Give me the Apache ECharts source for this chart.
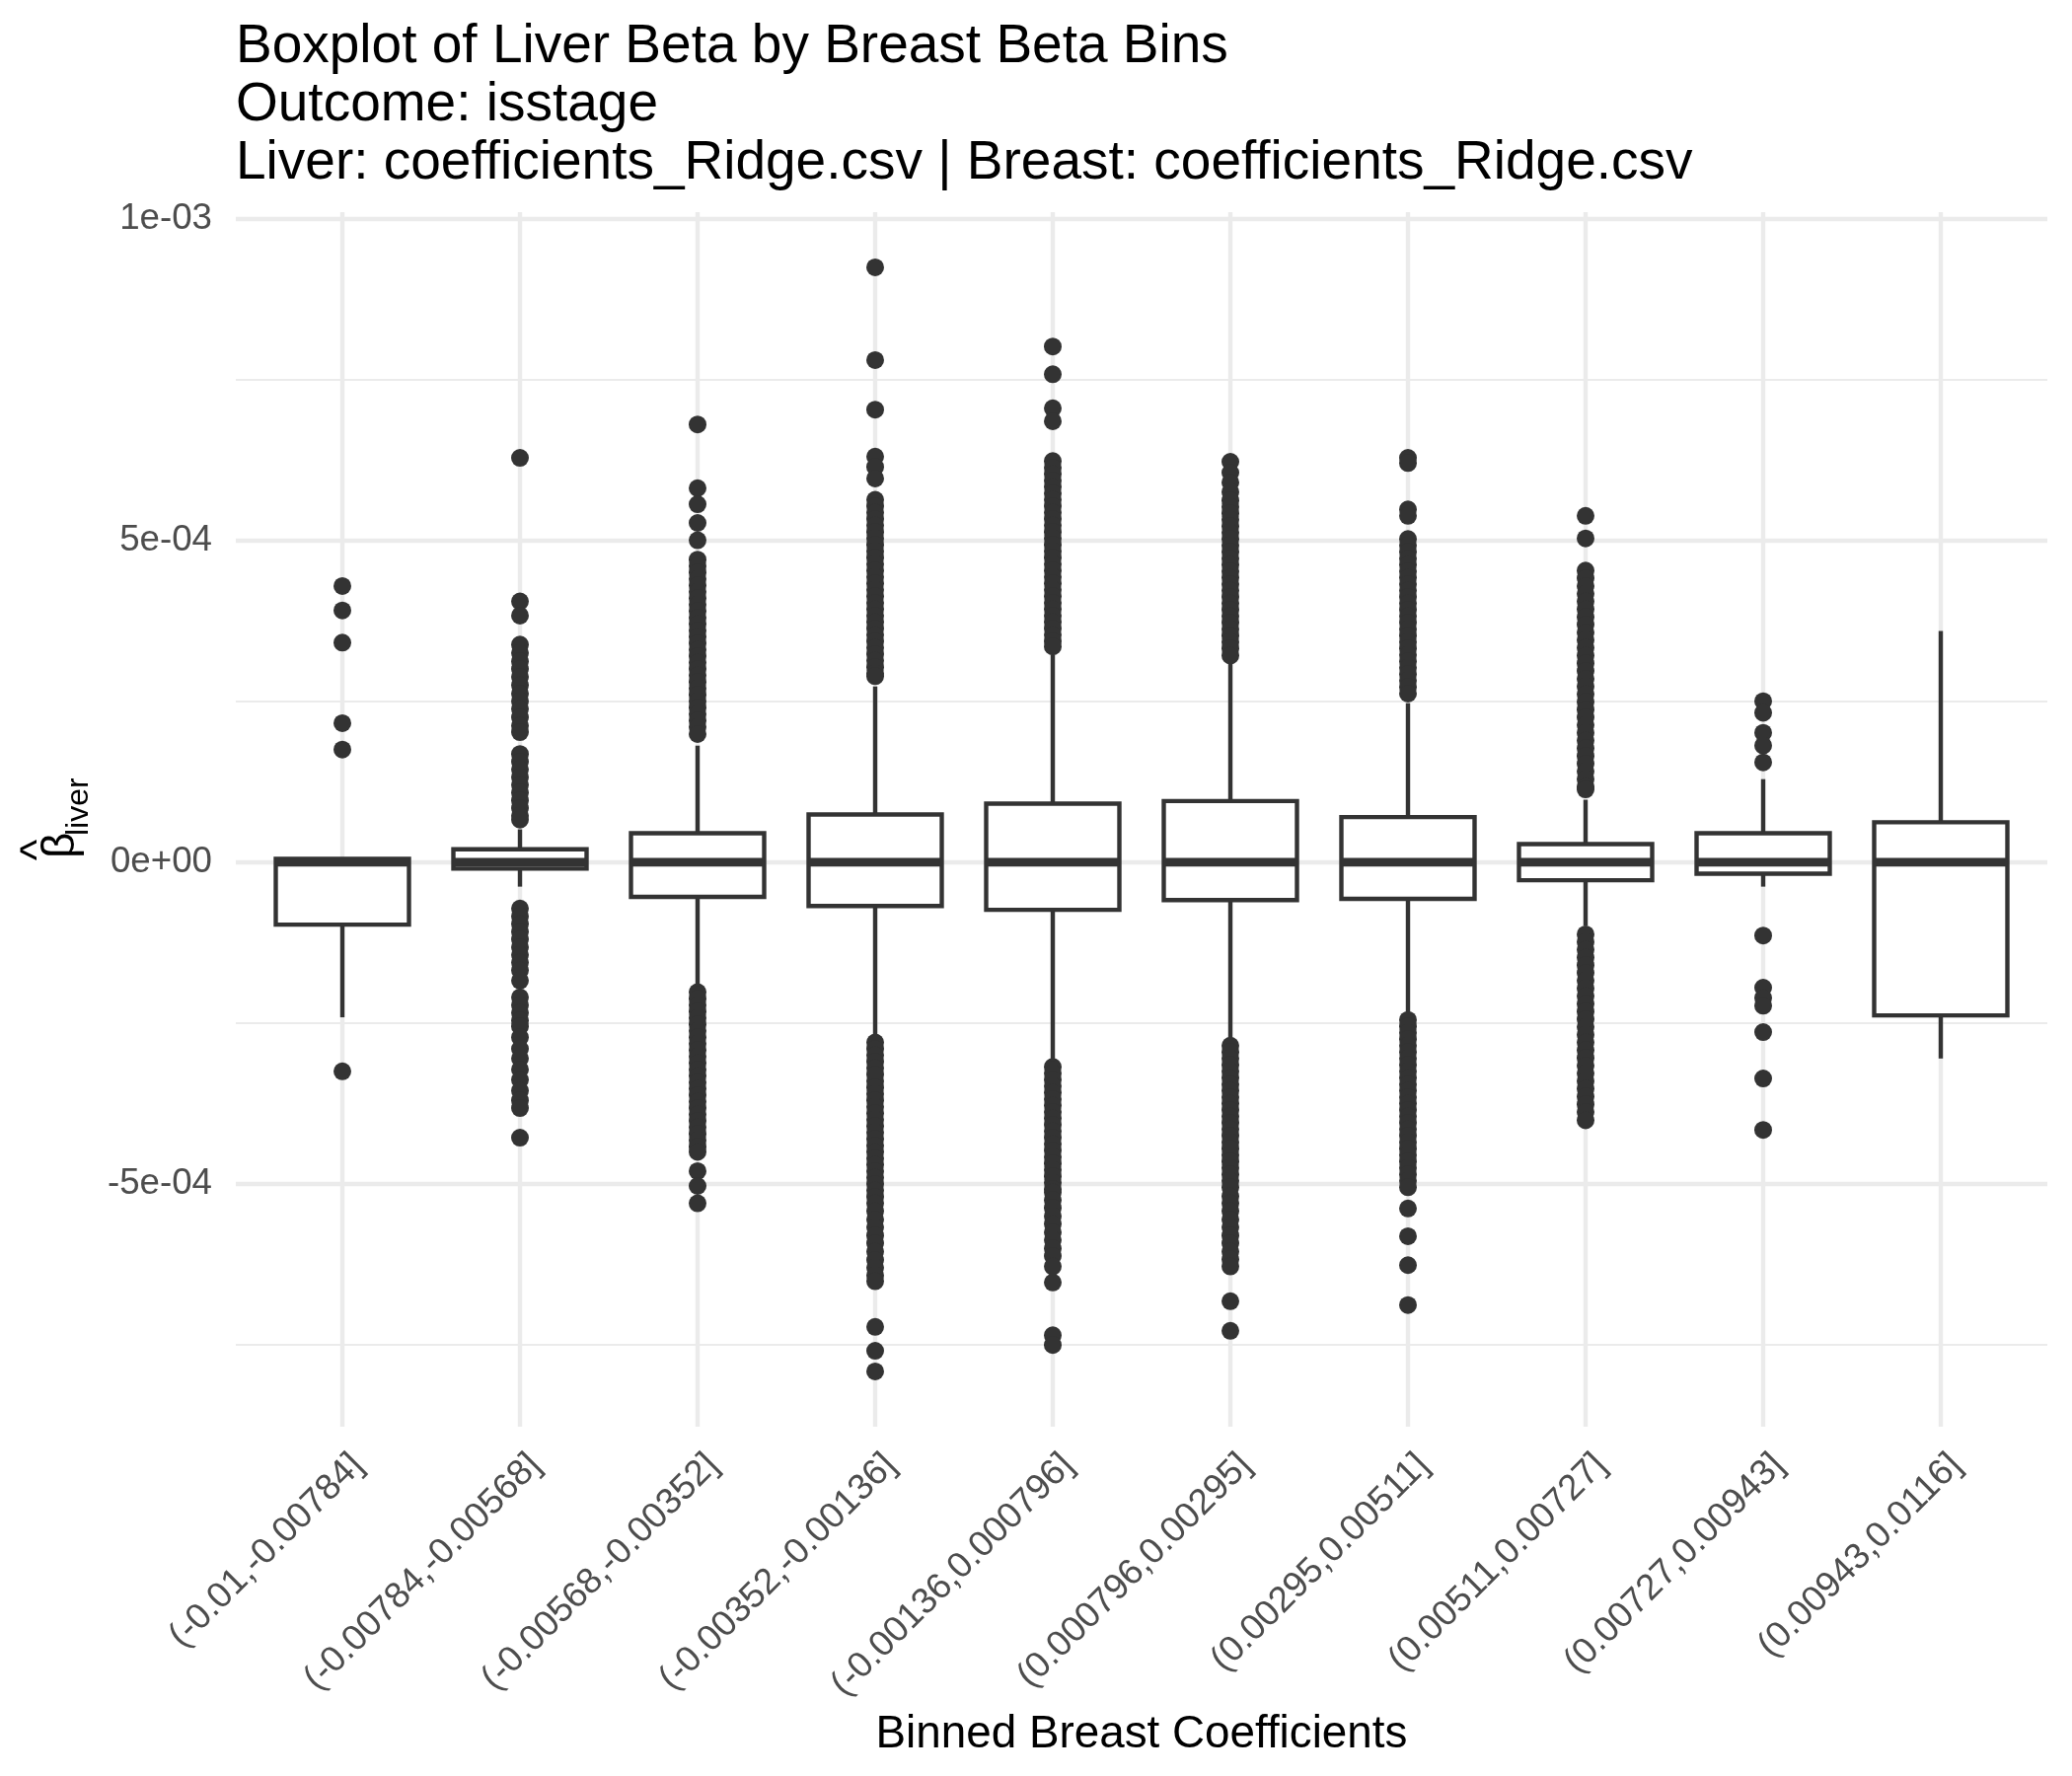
<!DOCTYPE html>
<html>
<head>
<meta charset="utf-8">
<script src="https://cdn.jsdelivr.net/npm/echarts@6/dist/echarts.min.js"></script>
<style>
  html, body { margin: 0; padding: 0; background: #ffffff; }
  #chart { width: 2100px; height: 1800px; }
</style>
</head>
<body>
<div id="chart"></div>
<script>
// ---------------- DATA ----------------
const binLabels = [
  '(-0.01,-0.00784]', '(-0.00784,-0.00568]', '(-0.00568,-0.00352]', '(-0.00352,-0.00136]',
  '(-0.00136,0.000796]', '(0.000796,0.00295]', '(0.00295,0.00511]', '(0.00511,0.00727]',
  '(0.00727,0.00943]', '(0.00943,0.0116]'
];

const whiskerLow  = [-2.41e-4, -0.38e-4, -1.92e-4, -2.69e-4, -3.09e-4, -2.76e-4, -2.38e-4, -0.99e-4, -0.38e-4, -3.05e-4];
const quartile1   = [-0.97e-4, -0.10e-4, -0.54e-4, -0.68e-4, -0.74e-4, -0.59e-4, -0.57e-4, -0.28e-4, -0.18e-4, -2.38e-4];
const medianVals  = [0, 0, 0, 0, 0, 0, 0, 0, 0, 0];
const quartile3   = [0.05e-4, 0.20e-4, 0.45e-4, 0.74e-4, 0.91e-4, 0.95e-4, 0.70e-4, 0.28e-4, 0.45e-4, 0.62e-4];
const whiskerHigh = [0.05e-4, 0.51e-4, 1.81e-4, 2.73e-4, 3.22e-4, 3.08e-4, 2.47e-4, 0.97e-4, 1.29e-4, 3.59e-4];

const outliersBin1 = [4.29e-4, 3.91e-4, 3.41e-4, 2.16e-4, 1.75e-4, -3.25e-4];
const outliersBin2 = [
  6.28e-4, 4.05e-4, 3.83e-4, 3.38e-4, 3.25e-4, 3.12e-4, 3.00e-4, 2.88e-4, 2.75e-4, 2.62e-4, 2.50e-4,
  2.38e-4, 2.25e-4, 2.12e-4, 2.02e-4, 1.68e-4, 1.56e-4, 1.44e-4, 1.32e-4, 1.20e-4, 1.08e-4, 0.96e-4,
  0.84e-4, 0.72e-4, 0.66e-4,
  -0.72e-4, -0.84e-4, -0.96e-4, -1.08e-4, -1.20e-4, -1.32e-4, -1.44e-4, -1.56e-4, -1.68e-4, -1.84e-4,
  -2.10e-4, -2.22e-4, -2.34e-4, -2.46e-4, -2.55e-4, -2.72e-4, -2.90e-4, -3.05e-4, -3.22e-4, -3.38e-4,
  -3.55e-4, -3.70e-4, -3.82e-4, -4.28e-4
];
const outliersBin3 = [
  6.80e-4, 5.81e-4, 5.56e-4, 5.27e-4, 5.00e-4,
  4.70e-4, 4.60e-4, 4.50e-4, 4.40e-4, 4.30e-4, 4.20e-4, 4.10e-4, 4.00e-4, 3.90e-4, 3.80e-4, 3.70e-4,
  3.60e-4, 3.50e-4, 3.40e-4, 3.30e-4, 3.20e-4, 3.10e-4, 3.00e-4, 2.90e-4, 2.80e-4, 2.70e-4, 2.60e-4,
  2.50e-4, 2.40e-4, 2.30e-4, 2.20e-4, 2.10e-4, 1.99e-4,
  -2.02e-4, -2.12e-4, -2.22e-4, -2.32e-4, -2.42e-4, -2.52e-4, -2.62e-4, -2.72e-4, -2.82e-4, -2.92e-4,
  -3.02e-4, -3.12e-4, -3.22e-4, -3.32e-4, -3.42e-4, -3.52e-4, -3.62e-4, -3.72e-4, -3.82e-4, -3.92e-4,
  -4.02e-4, -4.12e-4, -4.22e-4, -4.32e-4, -4.42e-4, -4.50e-4, -4.80e-4, -5.03e-4, -5.30e-4
];
const outliersBin4 = [
  9.24e-4, 7.80e-4, 7.03e-4, 6.30e-4, 6.14e-4, 5.96e-4,
  5.63e-4, 5.53e-4, 5.43e-4, 5.33e-4, 5.23e-4, 5.13e-4, 5.03e-4, 4.93e-4, 4.83e-4, 4.73e-4, 4.63e-4,
  4.53e-4, 4.43e-4, 4.33e-4, 4.23e-4, 4.13e-4, 4.03e-4, 3.93e-4, 3.83e-4, 3.73e-4, 3.63e-4, 3.53e-4,
  3.43e-4, 3.33e-4, 3.23e-4, 3.13e-4, 3.03e-4, 2.93e-4, 2.89e-4,
  -2.80e-4, -2.90e-4, -3.00e-4, -3.10e-4, -3.20e-4, -3.30e-4, -3.40e-4, -3.50e-4, -3.60e-4, -3.70e-4,
  -3.80e-4, -3.90e-4, -4.00e-4, -4.10e-4, -4.20e-4, -4.30e-4, -4.40e-4, -4.50e-4, -4.60e-4, -4.70e-4,
  -4.80e-4, -4.90e-4, -5.00e-4, -5.10e-4, -5.20e-4, -5.30e-4, -5.42e-4, -5.55e-4, -5.67e-4, -5.80e-4,
  -5.92e-4, -6.05e-4, -6.18e-4, -6.30e-4, -6.42e-4, -6.51e-4, -7.22e-4, -7.59e-4, -7.91e-4
];
const outliersBin5 = [
  8.01e-4, 7.58e-4, 7.05e-4, 6.85e-4,
  6.23e-4, 6.13e-4, 6.03e-4, 5.93e-4, 5.83e-4, 5.73e-4, 5.63e-4, 5.53e-4, 5.43e-4, 5.33e-4, 5.23e-4,
  5.13e-4, 5.03e-4, 4.93e-4, 4.83e-4, 4.73e-4, 4.63e-4, 4.53e-4, 4.43e-4, 4.33e-4, 4.23e-4, 4.13e-4,
  4.03e-4, 3.93e-4, 3.83e-4, 3.73e-4, 3.63e-4, 3.53e-4, 3.43e-4, 3.35e-4,
  -3.18e-4, -3.28e-4, -3.38e-4, -3.48e-4, -3.58e-4, -3.68e-4, -3.78e-4, -3.88e-4, -3.98e-4, -4.08e-4,
  -4.18e-4, -4.28e-4, -4.38e-4, -4.48e-4, -4.58e-4, -4.68e-4, -4.78e-4, -4.88e-4, -4.98e-4, -5.08e-4,
  -5.13e-4, -5.25e-4, -5.37e-4, -5.50e-4, -5.62e-4, -5.75e-4, -5.87e-4, -6.00e-4, -6.12e-4, -6.28e-4,
  -6.53e-4, -7.35e-4, -7.50e-4
];
const outliersBin6 = [
  6.22e-4, 6.05e-4, 5.90e-4, 5.75e-4, 5.62e-4, 5.52e-4, 5.42e-4, 5.32e-4, 5.22e-4, 5.12e-4, 5.02e-4,
  4.92e-4, 4.82e-4, 4.72e-4, 4.62e-4, 4.52e-4, 4.42e-4, 4.32e-4, 4.22e-4, 4.12e-4, 4.02e-4, 3.92e-4,
  3.82e-4, 3.72e-4, 3.62e-4, 3.52e-4, 3.42e-4, 3.32e-4, 3.21e-4,
  -2.85e-4, -2.95e-4, -3.05e-4, -3.15e-4, -3.25e-4, -3.35e-4, -3.45e-4, -3.55e-4, -3.65e-4, -3.75e-4,
  -3.85e-4, -3.95e-4, -4.05e-4, -4.15e-4, -4.25e-4, -4.35e-4, -4.45e-4, -4.55e-4, -4.65e-4, -4.75e-4,
  -4.85e-4, -4.95e-4, -5.05e-4, -5.19e-4, -5.30e-4, -5.42e-4, -5.55e-4, -5.67e-4, -5.80e-4, -5.92e-4,
  -6.05e-4, -6.17e-4, -6.28e-4, -6.82e-4, -7.28e-4
];
const outliersBin7 = [
  6.28e-4, 6.20e-4, 5.48e-4, 5.38e-4,
  5.02e-4, 4.92e-4, 4.82e-4, 4.72e-4, 4.62e-4, 4.52e-4, 4.42e-4, 4.32e-4, 4.22e-4, 4.12e-4, 4.02e-4,
  3.92e-4, 3.82e-4, 3.72e-4, 3.62e-4, 3.52e-4, 3.42e-4, 3.32e-4, 3.22e-4, 3.12e-4, 3.02e-4, 2.92e-4,
  2.82e-4, 2.72e-4, 2.62e-4,
  -2.45e-4, -2.55e-4, -2.65e-4, -2.75e-4, -2.85e-4, -2.95e-4, -3.05e-4, -3.15e-4, -3.25e-4, -3.35e-4,
  -3.45e-4, -3.55e-4, -3.65e-4, -3.75e-4, -3.85e-4, -3.95e-4, -4.05e-4, -4.15e-4, -4.25e-4, -4.35e-4,
  -4.45e-4, -4.55e-4, -4.65e-4, -4.75e-4, -4.85e-4, -4.95e-4, -5.05e-4,
  -5.38e-4, -5.81e-4, -6.26e-4, -6.88e-4
];
const outliersBin8 = [
  5.38e-4, 5.03e-4,
  4.53e-4, 4.41e-4, 4.29e-4, 4.17e-4, 4.05e-4, 3.93e-4, 3.81e-4, 3.69e-4, 3.57e-4, 3.45e-4, 3.33e-4,
  3.21e-4, 3.09e-4, 2.97e-4, 2.85e-4, 2.73e-4, 2.61e-4, 2.49e-4, 2.37e-4, 2.25e-4, 2.13e-4, 2.01e-4,
  1.89e-4, 1.77e-4, 1.65e-4, 1.53e-4, 1.41e-4, 1.29e-4, 1.17e-4, 1.13e-4,
  -1.12e-4, -1.24e-4, -1.36e-4, -1.48e-4, -1.60e-4, -1.72e-4, -1.84e-4, -1.96e-4, -2.08e-4, -2.20e-4,
  -2.32e-4, -2.44e-4, -2.56e-4, -2.68e-4, -2.80e-4, -2.92e-4, -3.04e-4, -3.16e-4, -3.28e-4, -3.40e-4,
  -3.52e-4, -3.64e-4, -3.76e-4, -3.88e-4, -4.01e-4
];
const outliersBin9 = [2.50e-4, 2.32e-4, 2.01e-4, 1.81e-4, 1.55e-4, -1.14e-4, -1.95e-4, -2.11e-4, -2.23e-4, -2.64e-4, -3.36e-4, -4.16e-4];
const outliersBin10 = [];

const yTickValues  = [-5e-4, 0, 5e-4, 1e-3];
const yTickLabels  = ['-5e-04', '0e+00', '5e-04', '1e-03'];
const yMinorValues = [-7.5e-4, -2.5e-4, 2.5e-4, 7.5e-4];
const yMin = -8.77e-4;
const yMax = 1.0098e-3;

// ---------------- BUILD ----------------
const outliersAll = [outliersBin1, outliersBin2, outliersBin3, outliersBin4, outliersBin5,
                     outliersBin6, outliersBin7, outliersBin8, outliersBin9, outliersBin10];
const binIndex = binLabels.map((_, i) => i);
const boxData = binIndex.map(i => [i, whiskerLow[i], quartile1[i], medianVals[i], quartile3[i], whiskerHigh[i]]);
const outlierData = [];
outliersAll.forEach((arr, i) => arr.forEach(v => outlierData.push([i, v])));

const FONT = 'Liberation Sans, Arial, Helvetica, sans-serif';
const INK = '#333333';
const GRID = '#EBEBEB';

const chart = echarts.init(document.getElementById('chart'), null, { renderer: 'canvas' });

chart.setOption({
  backgroundColor: '#ffffff',
  animation: false,
  title: {
    text: 'Boxplot of Liver Beta by Breast Beta Bins\nOutcome: isstage\nLiver: coefficients_Ridge.csv | Breast: coefficients_Ridge.csv',
    left: 239, top: 18, padding: 0,
    textStyle: { fontFamily: FONT, fontSize: 55, lineHeight: 59, fontWeight: 'normal', color: '#000000' }
  },
  grid: { left: 239, right: 25, top: 215, bottom: 354, containLabel: false, outerBoundsMode: 'none' },
  xAxis: {
    type: 'value', min: -0.6, max: 9.6,
    axisLine: { show: false },
    axisTick: { show: false, customValues: binIndex },
    axisLabel: {
      customValues: binIndex,
      formatter: v => binLabels[Math.round(v)],
      rotate: 45, align: 'right', verticalAlign: 'top', margin: 18,
      fontFamily: FONT, fontSize: 36.7, lineHeight: 44, color: '#4D4D4D'
    },
    splitLine: { show: true, lineStyle: { color: GRID, width: 4.4 } },
    name: 'Binned Breast Coefficients', nameLocation: 'middle', nameGap: 304,
    nameTextStyle: { fontFamily: FONT, fontSize: 45.8, color: '#000000', verticalAlign: 'middle' }
  },
  yAxis: [
    {
      type: 'value', min: yMin, max: yMax,
      axisLine: { show: false },
      axisTick: { show: false, customValues: yTickValues },
      axisLabel: {
        customValues: yTickValues,
        formatter: v => {
          let best = 0;
          yTickValues.forEach((t, i) => { if (Math.abs(t - v) < Math.abs(yTickValues[best] - v)) best = i; });
          return yTickLabels[best];
        },
        margin: 24, fontFamily: FONT, fontSize: 36.7, color: '#4D4D4D'
      },
      splitLine: { show: true, lineStyle: { color: GRID, width: 4.4 } }
    },
    {
      type: 'value', min: yMin, max: yMax, position: 'left',
      axisLine: { show: false },
      axisTick: { show: false, customValues: yMinorValues },
      axisLabel: { show: false },
      splitLine: { show: true, lineStyle: { color: GRID, width: 2.2 } }
    }
  ],
  series: [
    {
      type: 'scatter', name: 'outliers', yAxisIndex: 0,
      data: outlierData, symbol: 'circle', symbolSize: 18,
      itemStyle: { color: INK, opacity: 1 }, z: 3, silent: true
    },
    {
      type: 'custom', name: 'box', yAxisIndex: 0,
      data: boxData,
      encode: { x: 0, y: [1, 2, 3, 4, 5] },
      z: 4, silent: true,
      renderItem: function (params, api) {
        const x = api.value(0);
        const lo = api.coord([x, api.value(1)]);
        const b1 = api.coord([x, api.value(2)]);
        const md = api.coord([x, api.value(3)]);
        const b3 = api.coord([x, api.value(4)]);
        const hi = api.coord([x, api.value(5)]);
        const halfW = api.size([0.75, 0])[0] / 2;
        const lw = 4.4;
        return {
          type: 'group',
          children: [
            { type: 'line', shape: { x1: lo[0], y1: lo[1], x2: b1[0], y2: b1[1] }, style: { stroke: INK, lineWidth: lw } },
            { type: 'line', shape: { x1: b3[0], y1: b3[1], x2: hi[0], y2: hi[1] }, style: { stroke: INK, lineWidth: lw } },
            { type: 'rect', shape: { x: b3[0] - halfW, y: b3[1], width: 2 * halfW, height: b1[1] - b3[1] },
              style: { fill: '#ffffff', stroke: INK, lineWidth: lw } },
            { type: 'line', shape: { x1: md[0] - halfW, y1: md[1], x2: md[0] + halfW, y2: md[1] },
              style: { stroke: INK, lineWidth: 2 * lw } }
          ]
        };
      }
    }
  ],
  graphic: [
    {
      type: 'group', x: 78, y: 870, rotation: Math.PI / 2,
      children: [
        { type: 'text', x: 0, y: -15.9, style: { text: 'β', fontFamily: FONT, fontSize: 45.8, fill: '#000000', align: 'left', verticalAlign: 'middle' } },
        { type: 'text', x: 23, y: 1.9, style: { text: 'liver', fontFamily: FONT, fontSize: 32, fill: '#000000', align: 'left', verticalAlign: 'middle' } },
        { type: 'text', x: 8.5, y: -38.4, style: { text: '^', fontFamily: FONT, fontSize: 46, fill: '#000000', align: 'center', verticalAlign: 'middle' } }
      ]
    }
  ]
});
</script>
</body>
</html>
